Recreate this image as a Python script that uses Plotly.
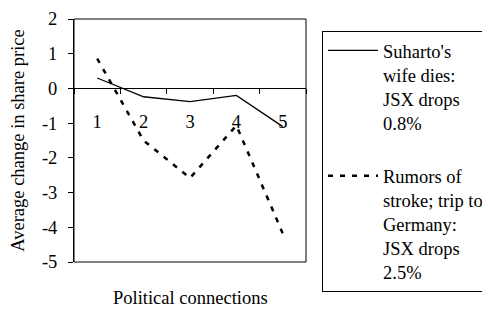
import plotly.graph_objects as go

categories = ["1", "2", "3", "4", "5"]
wife_dies = [0.3, -0.24, -0.38, -0.2, -1.1]
stroke_rumors = [0.86, -1.5, -2.58, -1.07, -4.18]
y_tick_vals = [2, 1, 0, -1, -2, -3, -4, -5]
y_tick_text = ["2", "1", "0", "-1", "-2", "-3", "-4", "-5"]
name_wife = "Suharto's<br>wife dies:<br>JSX drops<br>0.8%"
name_stroke = "Rumors of<br>stroke; trip to<br>Germany:<br>JSX drops<br>2.5%"

FONT = "Liberation Serif"
FS = 18.5

fig = go.Figure()
fig.add_trace(go.Scatter(x=categories, y=wife_dies, mode="lines", name=name_wife,
                         line=dict(color="black", width=1.3), legendgroup="a"))
fig.add_trace(go.Scatter(x=categories, y=stroke_rumors, mode="lines", name=name_stroke,
                         line=dict(color="black", width=2.5, dash="5px,7px"), legendgroup="b"))

zero_pos = (0 - (-5)) / 7

fig.update_layout(
    width=482, height=301,
    margin=dict(l=66, r=184, t=11, b=47, autoexpand=False),
    paper_bgcolor="white", plot_bgcolor="white",
    font=dict(family=FONT, size=FS, color="black"),
    xaxis=dict(type="category", range=[-0.5, 4.5], tickson="boundaries",
               anchor="free", position=zero_pos,
               showline=True, linecolor="black", linewidth=1,
               ticks="outside", ticklen=5, tickcolor="black", tickwidth=1,
               ticklabelstandoff=16, showgrid=False, zeroline=False,
               tickfont=dict(family=FONT, size=FS)),
    yaxis=dict(range=[-5, 2], tickvals=y_tick_vals, ticktext=y_tick_text,
               showline=True, linecolor="black", linewidth=1,
               ticks="outside", ticklen=5, tickcolor="black", tickwidth=1,
               ticklabelstandoff=7,
               showgrid=False, zeroline=False,
               tickfont=dict(family=FONT, size=FS),
               title=dict(text="Average change in share price", font=dict(family=FONT, size=FS), standoff=12)),
    legend=dict(x=1.069, xanchor="left", y=0.951, yanchor="top",
                bordercolor="black", borderwidth=1, bgcolor="white",
                font=dict(family=FONT, size=FS), valign="top",
                tracegroupgap=26, itemwidth=50, maxheight=290),
    shapes=[dict(type="rect", xref="paper", yref="paper", x0=0, x1=1, y0=0, y1=1,
                 line=dict(color="black", width=1))],
    annotations=[dict(text="Political connections", xref="paper", yref="paper",
                      x=0.5, y=-0.148, showarrow=False, yanchor="middle",
                      font=dict(family=FONT, size=FS))],
)

fig.write_html("out.html")
